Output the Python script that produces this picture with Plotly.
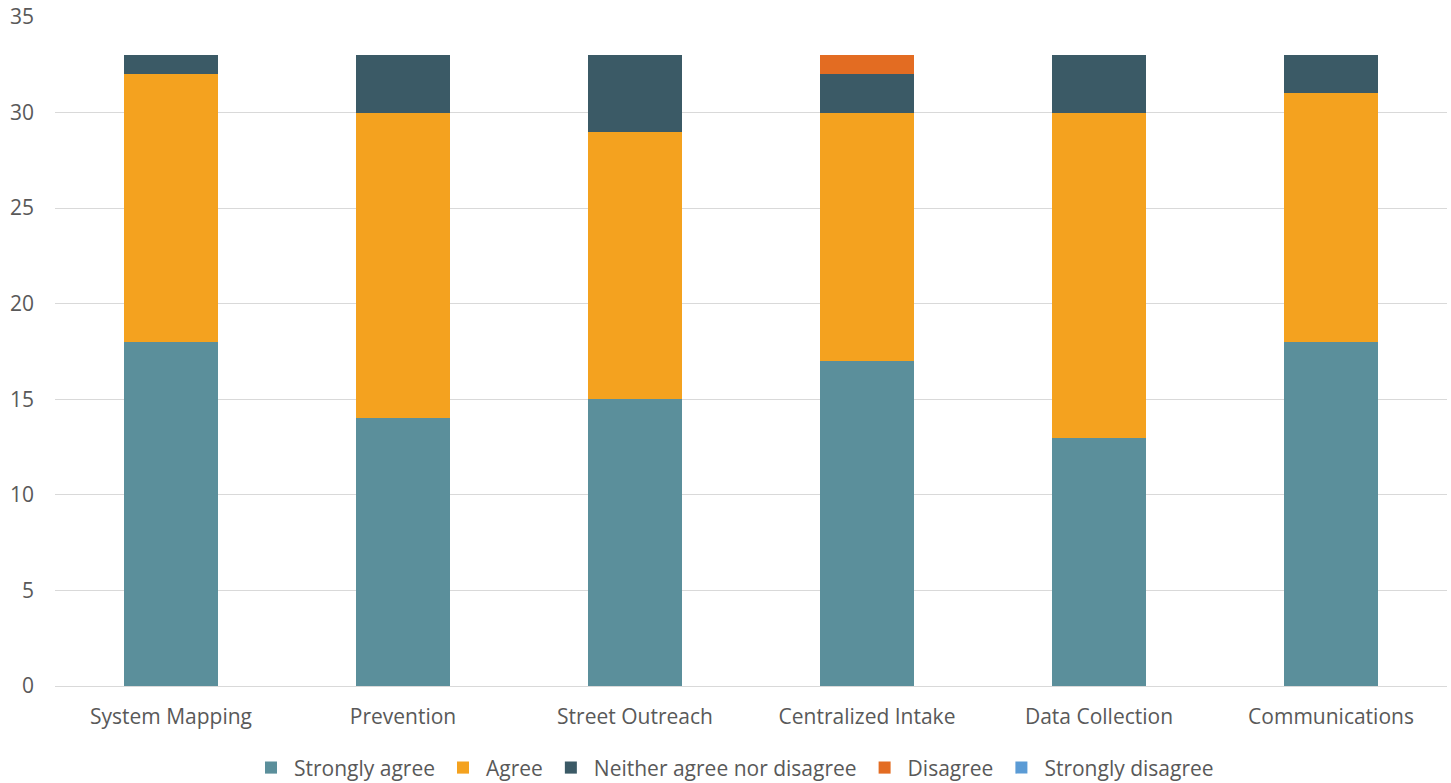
import plotly.graph_objects as go

categories = ["System Mapping", "Prevention", "Street Outreach", "Centralized Intake", "Data Collection", "Communications"]
strongly_agree = [18, 14, 15, 17, 13, 18]
agree = [14, 16, 14, 13, 17, 13]
neither = [1, 3, 4, 2, 3, 2]
disagree = [0, 0, 0, 1, 0, 0]
strongly_disagree = [0, 0, 0, 0, 0, 0]

series = [
    ("Strongly agree", strongly_agree, "#5B8F9B"),
    ("Agree", agree, "#F4A21F"),
    ("Neither agree nor disagree", neither, "#3B5A66"),
    ("Disagree", disagree, "#E36C22"),
    ("Strongly disagree", strongly_disagree, "#5B9BD5"),
]

fig = go.Figure()
for name, vals, color in series:
    fig.add_trace(go.Bar(name=name, x=categories, y=vals, marker_color=color,
                         marker_line_width=0, width=0.405))

font = "'Open Sans', sans-serif"
fig.update_layout(
    barmode="stack",
    width=1451, height=783,
    margin=dict(l=55, r=4, t=16, b=97),
    plot_bgcolor="white", paper_bgcolor="white",
    font=dict(family=font, size=21, color="#595959"),
    yaxis=dict(range=[0, 35.05], tickvals=[0, 5, 10, 15, 20, 25, 30, 35],
               gridcolor="#D9D9D9", gridwidth=1.3,
               zeroline=True, zerolinecolor="#D9D9D9", zerolinewidth=1.3,
               ticks="", ticklabelstandoff=20, tickfont=dict(size=21),
               ticklabeloverflow="allow", automargin=False),
    xaxis=dict(showline=False, ticks="", tickfont=dict(size=21),
               ticklabelstandoff=16, automargin=False),
    legend=dict(orientation="h", x=0.5055, xanchor="center", xref="container",
                y=0.0192, yanchor="middle", yref="container",
                font=dict(size=21), traceorder="normal", itemwidth=36),
    bargap=0.5,
)
fig.write_html("out.html", config={"displayModeBar": False},
               post_script="document.body.style.margin='0';document.body.style.overflow='hidden';")
